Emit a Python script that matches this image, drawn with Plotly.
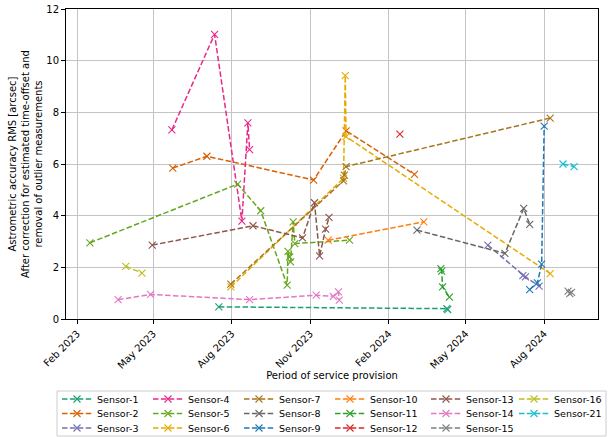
import plotly.graph_objects as go

# Sensor names, measurement dates and RMS values [arcsec]
sensor_names = ["Sensor-1", "Sensor-2", "Sensor-3", "Sensor-4", "Sensor-5", "Sensor-6",
                "Sensor-7", "Sensor-8", "Sensor-9", "Sensor-10", "Sensor-11", "Sensor-12",
                "Sensor-13", "Sensor-14", "Sensor-15", "Sensor-16", "Sensor-21"]

s1_dates = ["2023-07-17", "2024-04-09", "2024-04-10"]
s1_rms = [0.47, 0.40, 0.36]
s2_dates = ["2023-05-24", "2023-07-03", "2023-11-05", "2023-12-13", "2024-03-02"]
s2_rms = [5.84, 6.30, 5.38, 7.28, 5.60]
s3_dates = ["2024-05-27", "2024-07-07", "2024-07-10", "2024-07-26"]
s3_rms = [2.86, 1.68, 1.63, 1.27]
s4_dates = ["2023-05-23", "2023-07-12", "2023-08-13", "2023-08-20", "2023-08-22"]
s4_rms = [7.32, 11.02, 3.79, 7.59, 6.56]
s5_dates = ["2023-02-16", "2023-08-08", "2023-09-04", "2023-10-05", "2023-10-06",
            "2023-10-08", "2023-10-09", "2023-10-12", "2023-10-14", "2023-12-17"]
s5_rms = [2.95, 5.22, 4.19, 1.31, 2.62, 2.40, 2.21, 3.76, 2.92, 3.05]
s6_dates = ["2023-07-31", "2023-12-10", "2023-12-12", "2023-12-13", "2024-08-08"]
s6_rms = [1.24, 5.45, 9.42, 7.06, 1.76]
s7_dates = ["2023-07-31", "2023-12-10", "2023-12-11", "2023-12-13", "2024-08-08"]
s7_rms = [1.35, 5.35, 5.57, 5.90, 7.78]
s8_dates = ["2024-03-05", "2024-06-16", "2024-07-08", "2024-07-15"]
s8_rms = [3.44, 2.54, 4.28, 3.66]
s9_dates = ["2024-07-15", "2024-07-24", "2024-07-29", "2024-08-01"]
s9_rms = [1.14, 1.40, 2.12, 7.47]
s10_dates = ["2023-11-22", "2024-03-13"]
s10_rms = [3.05, 3.76]
s11_dates = ["2024-04-02", "2024-04-03", "2024-04-04", "2024-04-12"]
s11_rms = [1.95, 1.85, 1.24, 0.85]
s12_dates = ["2024-02-14"]
s12_rms = [7.16]
s13_dates = ["2023-04-30", "2023-08-26", "2023-10-23", "2023-11-06", "2023-11-12",
             "2023-11-19", "2023-11-23"]
s13_rms = [2.86, 3.61, 3.14, 4.50, 2.44, 3.48, 3.93]
s14_dates = ["2023-03-21", "2023-04-28", "2023-08-22", "2023-11-08", "2023-11-28",
             "2023-12-04", "2023-12-05"]
s14_rms = [0.75, 0.95, 0.75, 0.92, 0.88, 1.05, 0.73]
s15_dates = ["2024-08-29", "2024-08-31", "2024-09-02"]
s15_rms = [1.08, 0.98, 1.03]
s16_dates = ["2023-03-30", "2023-04-18"]
s16_rms = [2.04, 1.78]
s21_dates = ["2024-08-23", "2024-09-05"]
s21_rms = [6.00, 5.90]

all_dates = [s1_dates, s2_dates, s3_dates, s4_dates, s5_dates, s6_dates, s7_dates,
             s8_dates, s9_dates, s10_dates, s11_dates, s12_dates, s13_dates,
             s14_dates, s15_dates, s16_dates, s21_dates]
all_rms = [s1_rms, s2_rms, s3_rms, s4_rms, s5_rms, s6_rms, s7_rms, s8_rms, s9_rms,
           s10_rms, s11_rms, s12_rms, s13_rms, s14_rms, s15_rms, s16_rms, s21_rms]

colors = ["#1b9e77", "#d95f02", "#7570b3", "#e7298a", "#66a61e", "#e6ab02",
          "#a6761d", "#666666", "#1f77b4", "#ff7f0e", "#2ca02c", "#d62728",
          "#8c564b", "#e377c2", "#7f7f7f", "#bcbd22", "#17becf"]

y_ticks = [0, 2, 4, 6, 8, 10, 12]

W, H = 611, 437
ML, MR, MT, MB = 66, 13, 9, 118
plot_w, plot_h = W - ML - MR, H - MT - MB

# legend grid: entries fill 3 rows column by column; pixel anchors of each column / row
legend_col_px = [57, 148, 239, 330, 426, 514]
legend_row_px = [399, 413.5, 428]
n_rows = len(legend_row_px)

fig = go.Figure()
legend_layouts = {}
for i, (name, d, v, c) in enumerate(zip(sensor_names, all_dates, all_rms, colors)):
    col, row = divmod(i, n_rows)
    key = "legend" if i == 0 else f"legend{i + 1}"
    fig.add_trace(go.Scatter(
        x=d, y=v, name=name, mode="lines+markers",
        line=dict(color=c, width=1.5, dash="5.5px,2.4px"),
        marker=dict(symbol="x-thin", size=7, line=dict(color=c, width=1.1)),
        legend=key,
    ))
    legend_layouts[key] = dict(
        orientation="h", xref="container", yref="container",
        x=legend_col_px[col] / W, xanchor="left",
        y=1 - legend_row_px[row] / H, yanchor="middle",
        bgcolor="rgba(0,0,0,0)", borderwidth=0,
        font=dict(family="DejaVu Sans", size=9.5, color="black"),
        itemwidth=30,
    )

axis_common = dict(
    showline=True, linecolor="black", linewidth=1, mirror=True,
    ticks="outside", ticklen=4, tickcolor="black",
    showgrid=True, gridcolor="#c4c4c4", gridwidth=1,
    zeroline=False, automargin=False,
    tickfont=dict(family="DejaVu Sans", size=10, color="black"),
)

fig.update_xaxes(
    type="date", range=["2023-01-19", "2024-10-03"],
    tick0="2023-02-01", dtick="M3", tickformat="%b %Y", tickangle=-45,
    title=dict(text="Period of service provision", standoff=0,
               font=dict(family="DejaVu Sans", size=10, color="black")),
    **axis_common,
)
fig.update_yaxes(
    range=[0, 12], tickvals=y_ticks,
    title=dict(text="Astrometric accuracy RMS [arcsec]<br>After correction for estimated time-offset and<br>removal of outlier measurements",
               standoff=1, font=dict(family="DejaVu Sans", size=10, color="black")),
    **axis_common,
)

# frame around the legend block
fig.add_shape(
    type="rect", xref="paper", yref="paper",
    x0=(57 - ML) / plot_w, x1=(606 - ML) / plot_w,
    y0=(H - MB - 436) / plot_h, y1=(H - MB - 391) / plot_h,
    line=dict(color="#cccccc", width=1), fillcolor="rgba(0,0,0,0)",
)

fig.update_layout(
    width=W, height=H,
    margin=dict(l=ML, r=MR, t=MT, b=MB),
    plot_bgcolor="white", paper_bgcolor="white",
    font=dict(family="DejaVu Sans", size=10, color="black"),
    showlegend=True,
    **legend_layouts,
)

fig.write_html("out.html")
